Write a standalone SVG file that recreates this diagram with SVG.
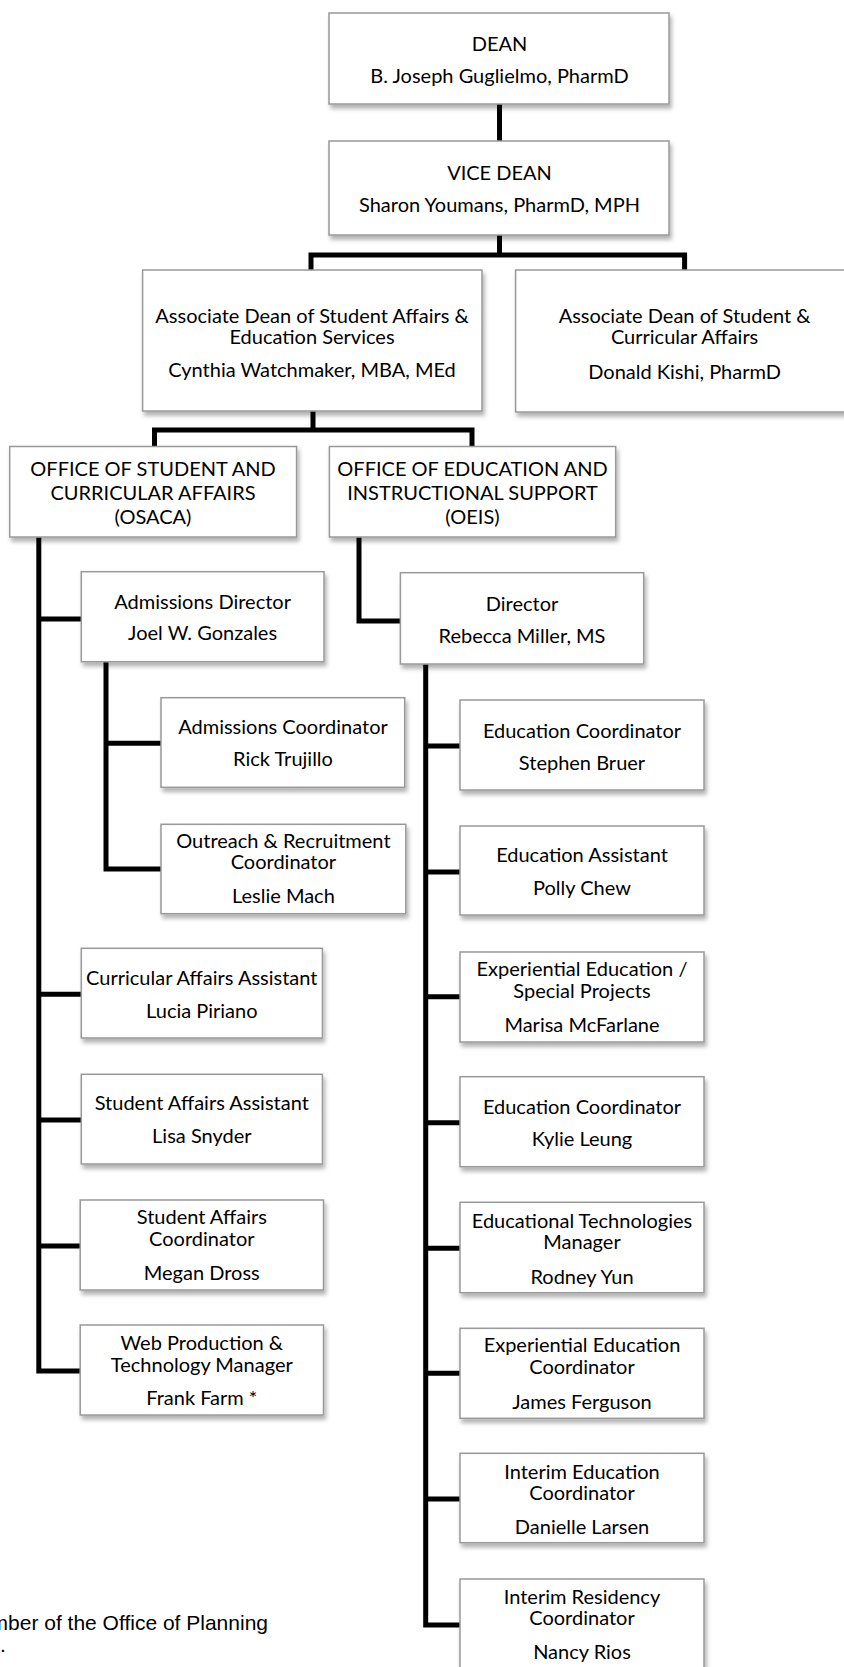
<svg xmlns="http://www.w3.org/2000/svg" width="844" height="1667" viewBox="0 0 844 1667">
<defs>
<filter id="sh" x="-10%" y="-10%" width="130%" height="140%">
<feDropShadow dx="2" dy="4" stdDeviation="2" flood-color="#000" flood-opacity="0.3"/>
</filter>
<style>
.box{fill:#fff;stroke:#999;stroke-width:1.5;filter:url(#sh)}
.t{font-family:Lato,"Open Sans",sans-serif;font-size:20px;fill:#000;text-anchor:middle}
.c{fill:none;stroke:#000;stroke-width:5;stroke-linejoin:miter}
.fn{font-family:"Liberation Sans",Arial,sans-serif;font-size:21px;fill:#000}
</style>
</defs>
<rect width="844" height="1667" fill="#fff"/>
<g id="connectors">
<path class="c" d="M499.5 104V141"/>
<path class="c" d="M499.5 235V255"/>
<path class="c" d="M311 270V255H684.6V270"/>
<path class="c" d="M313 411V430"/>
<path class="c" d="M154.5 446.5V430H472V446.5"/>
<path class="c" d="M38.8 537V1371H80.2"/>
<path class="c" d="M38.8 619H81.3M38.8 994.3H81.3M38.8 1120H81.3M38.8 1246H80.2"/>
<path class="c" d="M106 661.7V869H161M106 743.3H161"/>
<path class="c" d="M359 537V621H400.4"/>
<path class="c" d="M425.7 664V1625H460"/>
<path class="c" d="M425.7 746H460M425.7 872H460M425.7 996.7H460M425.7 1122.7H460M425.7 1248.3H460M425.7 1373.3H460M425.7 1499H460"/>
</g>
<g id="dean"><rect class="box" x="329" y="13" width="340" height="91"/>
<text class="t" x="499.5" y="50.5">DEAN</text><text class="t" x="499.5" y="83">B. Joseph Guglielmo, PharmD</text></g>
<g id="vicedean"><rect class="box" x="329" y="141" width="340" height="94"/>
<text class="t" x="499.5" y="179.5">VICE DEAN</text><text class="t" x="499.5" y="212">Sharon Youmans, PharmD, MPH</text></g>
<g id="assocdean1"><rect class="box" x="142.6" y="270" width="339.4" height="141"/>
<text class="t" x="312" y="323">Associate Dean of Student Affairs &amp;</text><text class="t" x="312" y="344">Education Services</text><text class="t" x="312" y="377">Cynthia Watchmaker, MBA, MEd</text></g>
<g id="assocdean2"><rect class="box" x="515.6" y="270" width="338" height="142"/>
<text class="t" x="684.6" y="323">Associate Dean of Student &amp;</text><text class="t" x="684.6" y="344">Curricular Affairs</text><text class="t" x="684.6" y="378.5">Donald Kishi, PharmD</text></g>
<g id="osaca"><rect class="box" x="9.7" y="446.5" width="286.9" height="90.5"/>
<text class="t" x="153" y="475.5">OFFICE OF STUDENT AND</text><text class="t" x="153" y="499.5">CURRICULAR AFFAIRS</text><text class="t" x="153" y="524">(OSACA)</text></g>
<g id="oeis"><rect class="box" x="329.4" y="446.5" width="286.3" height="90.5"/>
<text class="t" x="472.5" y="475.5">OFFICE OF EDUCATION AND</text><text class="t" x="472.5" y="499.5">INSTRUCTIONAL SUPPORT</text><text class="t" x="472.5" y="524">(OEIS)</text></g>
<g id="admdir"><rect class="box" x="81.3" y="571.7" width="242.7" height="90"/>
<text class="t" x="202.6" y="608.7">Admissions Director</text><text class="t" x="202.6" y="640.3">Joel W. Gonzales</text></g>
<g id="director"><rect class="box" x="400.4" y="572.7" width="243.3" height="91.3"/>
<text class="t" x="522" y="610.7">Director</text><text class="t" x="522" y="642.7">Rebecca Miller, MS</text></g>
<g id="admcoord"><rect class="box" x="161" y="697.7" width="243.7" height="89.6"/>
<text class="t" x="283" y="734.3">Admissions Coordinator</text><text class="t" x="283" y="766.3">Rick Trujillo</text></g>
<g id="outreach"><rect class="box" x="161" y="824.3" width="244.8" height="89.4"/>
<text class="t" x="283.4" y="847.7">Outreach &amp; Recruitment</text><text class="t" x="283.4" y="869.3">Coordinator</text><text class="t" x="283.4" y="903">Leslie Mach</text></g>
<g id="curricasst"><rect class="box" x="81.3" y="948.3" width="241.1" height="89.7"/>
<text class="t" x="201.8" y="985.3">Curricular Affairs Assistant</text><text class="t" x="201.8" y="1017.7">Lucia Piriano</text></g>
<g id="saasst"><rect class="box" x="81.3" y="1074.3" width="241.1" height="89.7"/>
<text class="t" x="201.8" y="1110.3">Student Affairs Assistant</text><text class="t" x="201.8" y="1142.7">Lisa Snyder</text></g>
<g id="sacoord"><rect class="box" x="80.2" y="1200" width="243.3" height="90"/>
<text class="t" x="201.8" y="1224.3">Student Affairs</text><text class="t" x="201.8" y="1246">Coordinator</text><text class="t" x="201.8" y="1280.3">Megan Dross</text></g>
<g id="webprod"><rect class="box" x="80.2" y="1325" width="243.3" height="90"/>
<text class="t" x="201.8" y="1349.7">Web Production &amp;</text><text class="t" x="201.8" y="1372">Technology Manager</text><text class="t" x="201.8" y="1405.3">Frank Farm *</text></g>
<g id="edcoord1"><rect class="box" x="460" y="700" width="244" height="90"/>
<text class="t" x="582" y="737.7">Education Coordinator</text><text class="t" x="582" y="769.7">Stephen Bruer</text></g>
<g id="edasst"><rect class="box" x="460" y="826" width="244" height="89"/>
<text class="t" x="582" y="862.3">Education Assistant</text><text class="t" x="582" y="894.7">Polly Chew</text></g>
<g id="exped"><rect class="box" x="460" y="952" width="244" height="90"/>
<text class="t" x="582" y="976.3">Experiential Education /</text><text class="t" x="582" y="997.7">Special Projects</text><text class="t" x="582" y="1032.3">Marisa McFarlane</text></g>
<g id="edcoord2"><rect class="box" x="460" y="1076.7" width="244" height="90"/>
<text class="t" x="582" y="1113.7">Education Coordinator</text><text class="t" x="582" y="1146">Kylie Leung</text></g>
<g id="edtech"><rect class="box" x="460" y="1202.3" width="244" height="90.4"/>
<text class="t" x="582" y="1228">Educational Technologies</text><text class="t" x="582" y="1248.7">Manager</text><text class="t" x="582" y="1283.7">Rodney Yun</text></g>
<g id="expcoord"><rect class="box" x="460" y="1328.3" width="244" height="90"/>
<text class="t" x="582" y="1352">Experiential Education</text><text class="t" x="582" y="1374.3">Coordinator</text><text class="t" x="582" y="1408.7">James Ferguson</text></g>
<g id="interimed"><rect class="box" x="460" y="1453.3" width="244" height="89.4"/>
<text class="t" x="582" y="1478.7">Interim Education</text><text class="t" x="582" y="1499.7">Coordinator</text><text class="t" x="582" y="1534.3">Danielle Larsen</text></g>
<g id="interimres"><rect class="box" x="460" y="1579" width="244" height="100"/>
<text class="t" x="582" y="1603.7">Interim Residency</text><text class="t" x="582" y="1625.3">Coordinator</text><text class="t" x="582" y="1659.3">Nancy Rios</text></g>
<g id="footnote">
<text class="fn" x="268" y="1630" text-anchor="end">mber of the Office of Planning</text>
<text class="fn" x="0" y="1652">.</text>
</g>
</svg>
